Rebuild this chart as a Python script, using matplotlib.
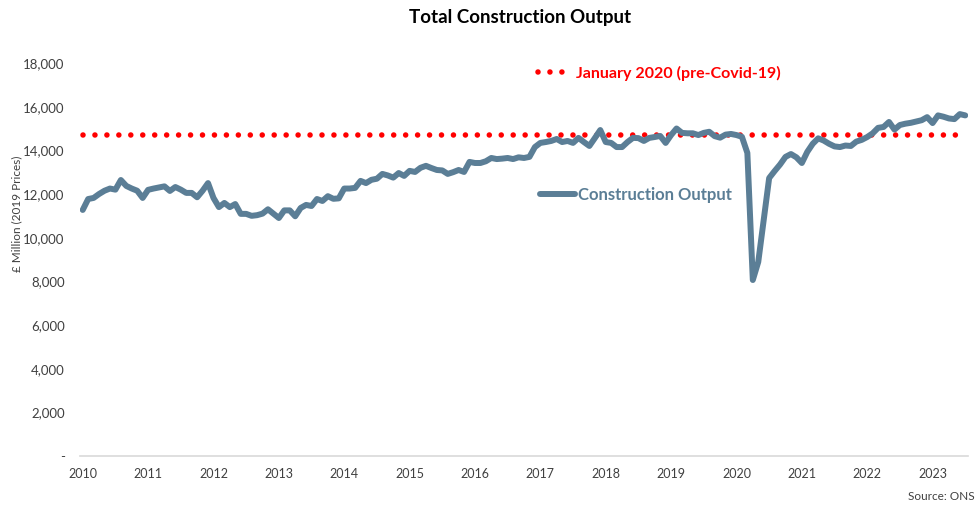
import matplotlib
matplotlib.use("Agg")
import matplotlib.pyplot as plt
import numpy as np

plt.rcParams['font.family'] = ['Lato', 'DejaVu Sans']

# Monthly construction output, Jan 2010 - Jul 2023 (£ million, 2019 prices)
output_2010 = [11270, 11770, 11820, 12000, 12150, 12250, 12200, 12640, 12370, 12250, 12150, 11820]
output_2011 = [12190, 12250, 12300, 12350, 12140, 12320, 12200, 12050, 12050, 11850, 12150, 12500]
output_2012 = [11820, 11400, 11590, 11400, 11540, 11090, 11090, 11000, 11030, 11100, 11300, 11100]
output_2013 = [10900, 11250, 11250, 10980, 11360, 11500, 11450, 11770, 11680, 11900, 11780, 11800]
output_2014 = [12250, 12250, 12280, 12600, 12500, 12650, 12700, 12920, 12850, 12750, 12960, 12830]
output_2015 = [13060, 13010, 13200, 13290, 13190, 13100, 13080, 12920, 13000, 13100, 13010, 13470]
output_2016 = [13420, 13420, 13500, 13650, 13600, 13620, 13650, 13600, 13680, 13650, 13700, 14150]
output_2017 = [14340, 14380, 14430, 14520, 14380, 14430, 14340, 14570, 14380, 14200, 14560, 14930]
output_2018 = [14380, 14340, 14150, 14150, 14380, 14570, 14560, 14430, 14570, 14610, 14660, 14340]
output_2019 = [14700, 15000, 14800, 14780, 14780, 14700, 14800, 14850, 14650, 14580, 14720, 14750]
output_2020 = [14700, 14620, 13880, 8060, 8890, 10800, 12730, 13050, 13350, 13700, 13830, 13680]
output_2021 = [13420, 13930, 14300, 14550, 14450, 14300, 14180, 14150, 14220, 14200, 14400, 14480]
output_2022 = [14610, 14780, 15030, 15070, 15300, 14950, 15160, 15220, 15260, 15320, 15380, 15520]
output_2023 = [15250, 15600, 15540, 15460, 15430, 15660, 15600]

pre_covid_level = 14700  # January 2020
year_labels = ['2010', '2011', '2012', '2013', '2014', '2015', '2016',
               '2017', '2018', '2019', '2020', '2021', '2022', '2023']
y_ticks = [0, 2000, 4000, 6000, 8000, 10000, 12000, 14000, 16000, 18000]

output = (output_2010 + output_2011 + output_2012 + output_2013 + output_2014 +
          output_2015 + output_2016 + output_2017 + output_2018 + output_2019 +
          output_2020 + output_2021 + output_2022 + output_2023)
x = np.arange(len(output))

line_col = '#5B7E96'
red = '#FF0000'
text_col = '#404040'

fig = plt.figure(figsize=(9.79, 5.08), dpi=100)
ax = fig.add_axes([80 / 979, 52 / 508, 888 / 979, 393 / 508])

lw_red = 4.0
red_line, = ax.plot(x, [pre_covid_level] * len(x), color=red, lw=lw_red,
                    linestyle=(0, (0.001, 8.6 / lw_red)), dash_capstyle='round',
                    label='January 2020 (pre-Covid-19)', zorder=2)
out_line, = ax.plot(x, output, color=line_col, lw=4.3, solid_joinstyle='round',
                    solid_capstyle='round', label='Construction Output', zorder=3)

ax.set_xlim(-0.5, len(output) - 0.5)
ax.set_ylim(0, 18000)
ax.set_yticks(y_ticks)
ax.set_yticklabels(['-' if v == 0 else f'{v:,}' for v in y_ticks])
ax.set_xticks(np.arange(len(year_labels)) * 12)
ax.set_xticklabels(year_labels)
ax.tick_params(axis='y', length=0, pad=11, labelsize=9.5, labelcolor=text_col)
ax.tick_params(axis='x', length=0, pad=9, labelsize=9, labelcolor=text_col)

for s in ['top', 'right', 'left']:
    ax.spines[s].set_visible(False)
ax.spines['bottom'].set_color('#D9D9D9')
ax.spines['bottom'].set_linewidth(1.2)

leg1 = ax.legend(handles=[red_line], loc='center left', frameon=False,
                 bbox_to_anchor=(538 / 979, 1 - 73 / 508), bbox_transform=fig.transFigure,
                 borderpad=0, borderaxespad=0, handlelength=1.9, handletextpad=0.5,
                 prop={'weight': 'bold', 'size': 11.5}, labelcolor='linecolor')
ax.add_artist(leg1)
ax.legend(handles=[out_line], loc='center left', frameon=False,
          bbox_to_anchor=(540 / 979, 1 - 195 / 508), bbox_transform=fig.transFigure,
          borderpad=0, borderaxespad=0, handlelength=2.1, handletextpad=0.15,
          prop={'weight': 'bold', 'size': 12}, labelcolor='linecolor')

fig.text(520 / 979, 1 - 18 / 508, 'Total Construction Output', ha='center', va='center',
         fontsize=13.5, fontweight='bold', color='black')
fig.text(17 / 979, 1 - 214 / 508, '£ Million (2019 Prices)', rotation=90,
         ha='center', va='center', fontsize=8.5, color=text_col)
fig.text(975 / 979, 1 - 497 / 508, 'Source: ONS', ha='right', va='center',
         fontsize=8.5, color=text_col)

fig.savefig('out.png', dpi=100)
